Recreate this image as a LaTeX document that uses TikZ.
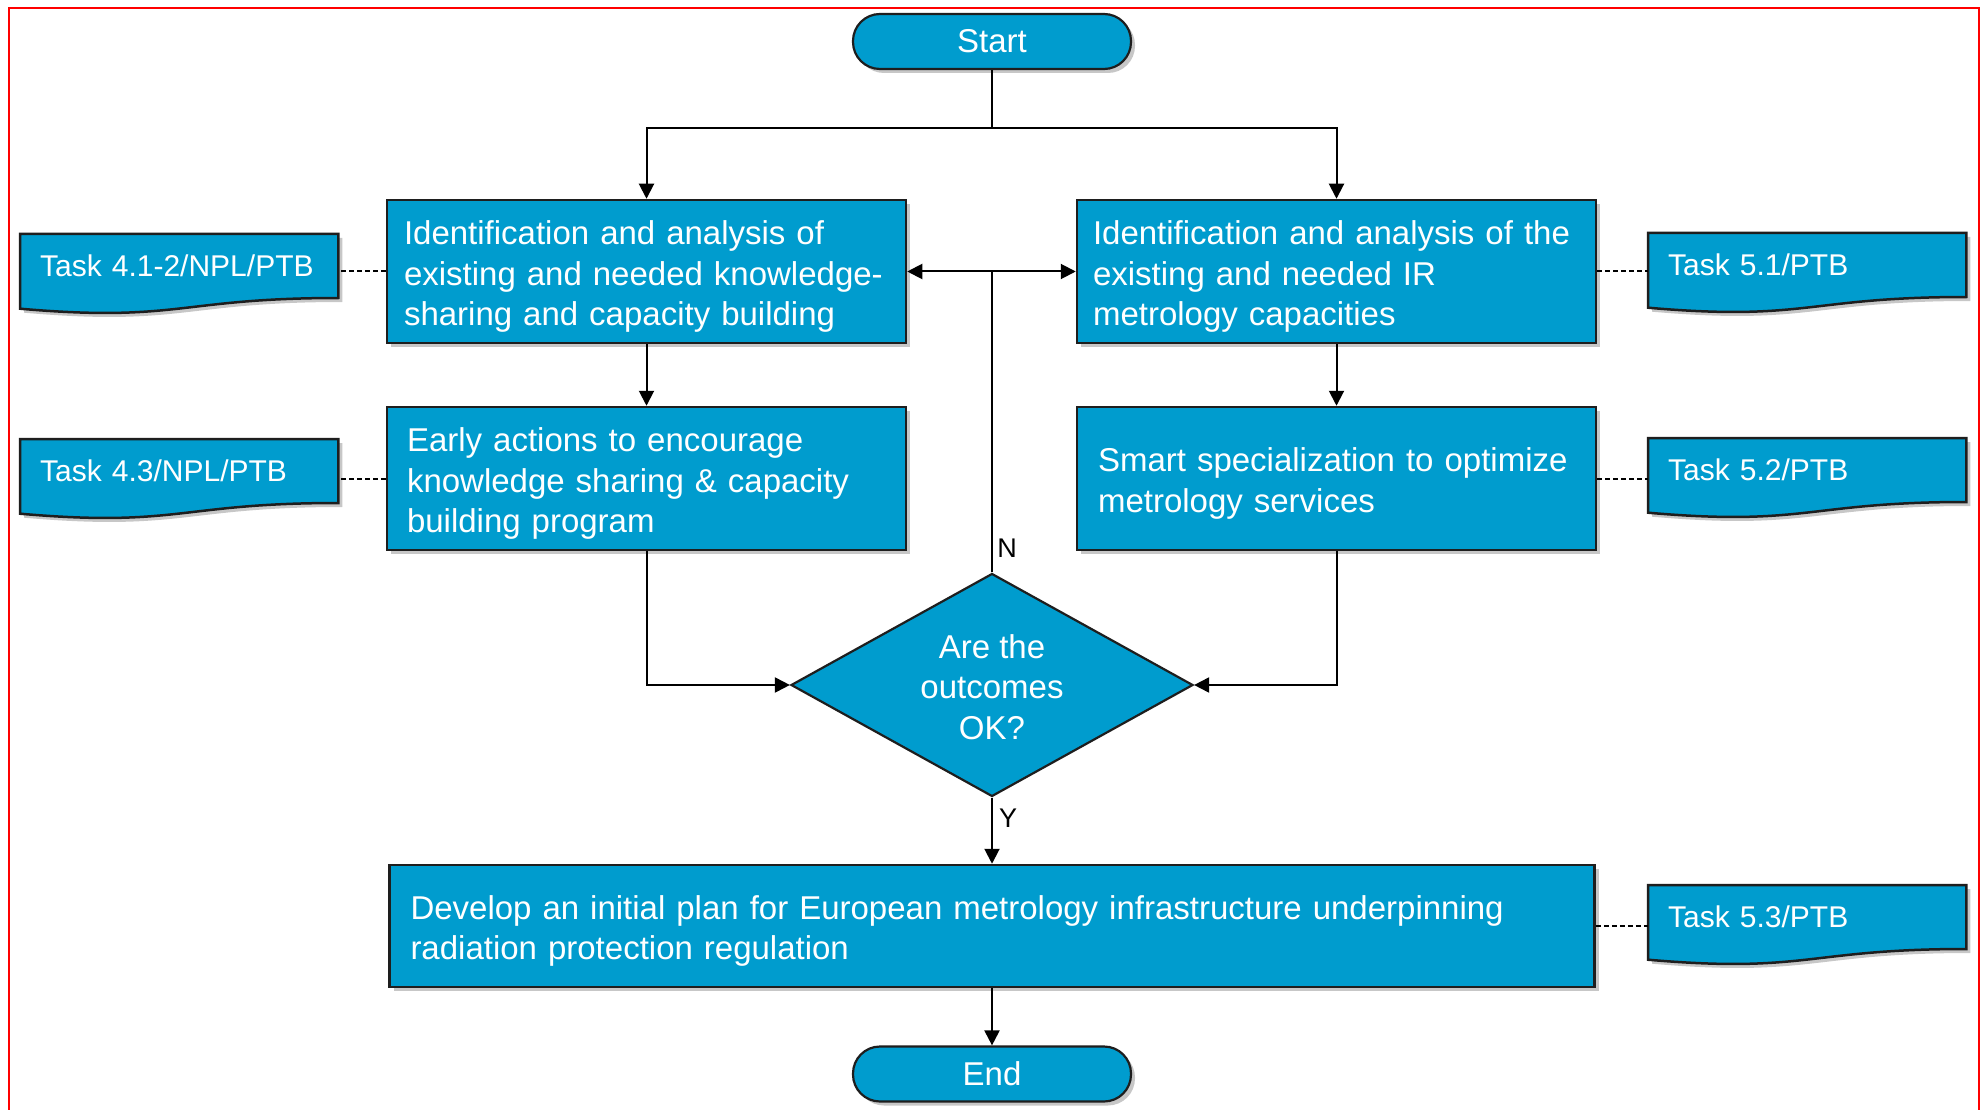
\documentclass[tikz,border=0pt]{standalone}
\usepackage{fontspec}
\setmainfont{Liberation Sans}
\usetikzlibrary{shapes.geometric,arrows.meta,shadows,backgrounds,calc}
\definecolor{boxblue}{RGB}{0,156,206}
\definecolor{edgecol}{RGB}{30,30,30}
\newcommand\tstrut{\rule{0pt}{34pt}}
\newcommand\dstrut{\rule{0pt}{28pt}}
\tikzset{
  base/.style={font=\fontsize{33}{40.5}\selectfont, text=white},
  softshadow/.style={drop shadow={shadow xshift=4pt, shadow yshift=-4pt, opacity=0.22, fill=black}},
  proc/.style={base, rectangle, draw=edgecol, line width=2.5pt, fill=boxblue, minimum height=143pt, inner ysep=0pt, align=left, softshadow},
  term/.style={base, rectangle, draw=edgecol, line width=2.2pt, fill=boxblue, rounded corners=27pt, minimum width=278pt, minimum height=55pt, inner sep=0pt, softshadow},
  dec/.style={base, diamond, aspect=1.8, draw=edgecol, line width=2.2pt, fill=boxblue, minimum width=402pt, minimum height=223pt, inner sep=0pt, align=center},
  task/.style={font=\fontsize{30}{36}\selectfont, text=white, anchor=north west, minimum width=318pt, minimum height=64pt, text width=278pt, inner xsep=20pt, inner ysep=0pt, align=left},
  docshape/.style={draw=edgecol, line width=2.5pt, fill=boxblue, softshadow},
  conn/.style={draw=black, line width=2pt, -{Triangle[length=15pt,width=15pt]}},
  link/.style={draw=black, line width=2pt, dash pattern=on 5pt off 3pt},
  lbl/.style={font=\fontsize{27}{30}\selectfont, text=black, inner sep=0pt},
}
\newcommand\docpath[1]{%
  \path[docshape] (#1.north west) -- (#1.north east) -- ($(#1.north east)+(0,64)$)
    .. controls ($(#1.north)+(0,64)$) and ($(#1.north)+(0,88.6)$) .. ($(#1.north west)+(0,74.7)$) -- cycle;}
\begin{document}
\begin{tikzpicture}[x=1pt,y=-1pt]
\useasboundingbox (0,0) rectangle (1982,1110);
\draw[red, line width=2pt] (9,1115) -- (9,8) -- (1979,8) -- (1979,1115);

% terminals
\node[term] (st) at (992,41.5) {Start};
\node[term] (en) at (992,1074) {End};

% process boxes
\node[proc, text width=485pt, inner xsep=17pt] (b1) at (646.5,271.5)
  {\tstrut Identification and analysis of\\existing and needed knowledge-\\sharing and capacity building};
\node[proc, text width=487pt, inner xsep=16pt] (b2) at (1336.5,271.5)
  {\tstrut Identification and analysis of the\\existing and needed IR\\metrology capacities};
\node[proc, text width=479pt, inner xsep=20pt] (b3) at (646.5,478.5)
  {\tstrut Early actions to encourage\\knowledge sharing \& capacity\\building program};
\node[proc, text width=477pt, inner xsep=21pt] (b4) at (1336.5,478.5)
  {\tstrut Smart specialization to optimize\\metrology services};
\node[proc, minimum height=122pt, text width=1163pt, inner xsep=21pt] (b5) at (992,926)
  {\tstrut Develop an initial plan for European metrology infrastructure underpinning\\radiation protection regulation};

% decision
\node[dec] (dia) at (992,685) {\dstrut Are the\\outcomes\\OK?};

% task documents
\node[task] (t41) at (20,234) {Task 4.1-2/NPL/PTB};
\node[task] (t43) at (20,439) {Task 4.3/NPL/PTB};
\node[task] (t51) at (1648,233) {Task 5.1/PTB};
\node[task] (t52) at (1648,438) {Task 5.2/PTB};
\node[task] (t53) at (1648,885) {Task 5.3/PTB};
\begin{pgfonlayer}{background}
  \fill[white] (0,0) rectangle (1982,1110);
  \docpath{t41}\docpath{t43}\docpath{t51}\docpath{t52}\docpath{t53}
\end{pgfonlayer}

% connectors
\coordinate (split) at (992,128);
\draw[line width=2pt] (st.south) -- (split);
\draw[conn] (split) -| (b1.north);
\draw[conn] (split) -| (b2.north);
\draw[conn] (b1.south) -- (b3.north);
\draw[conn] (b2.south) -- (b4.north);
\draw[conn] (b3.south) |- (dia.west);
\draw[conn] (b4.south) |- (dia.east);
\draw[conn] (dia.north) |- (b1.east);
\draw[conn] (dia.north) |- (b2.west);
\draw[conn] (dia.south) -- (b5.north);
\draw[conn] (b5.south) -- (en.north);

\node[lbl] (nlab) at (1007,548) {N};
\node[lbl] (ylab) at (1008,818) {Y};

% dashed links
\draw[link] (b1.west) -- (b1.west -| t41.east);
\draw[link] (b3.west) -- (b3.west -| t43.east);
\draw[link] (b2.east) -- (b2.east -| t51.west);
\draw[link] (b4.east) -- (b4.east -| t52.west);
\draw[link] (b5.east) -- (b5.east -| t53.west);
\end{tikzpicture}
\end{document}
